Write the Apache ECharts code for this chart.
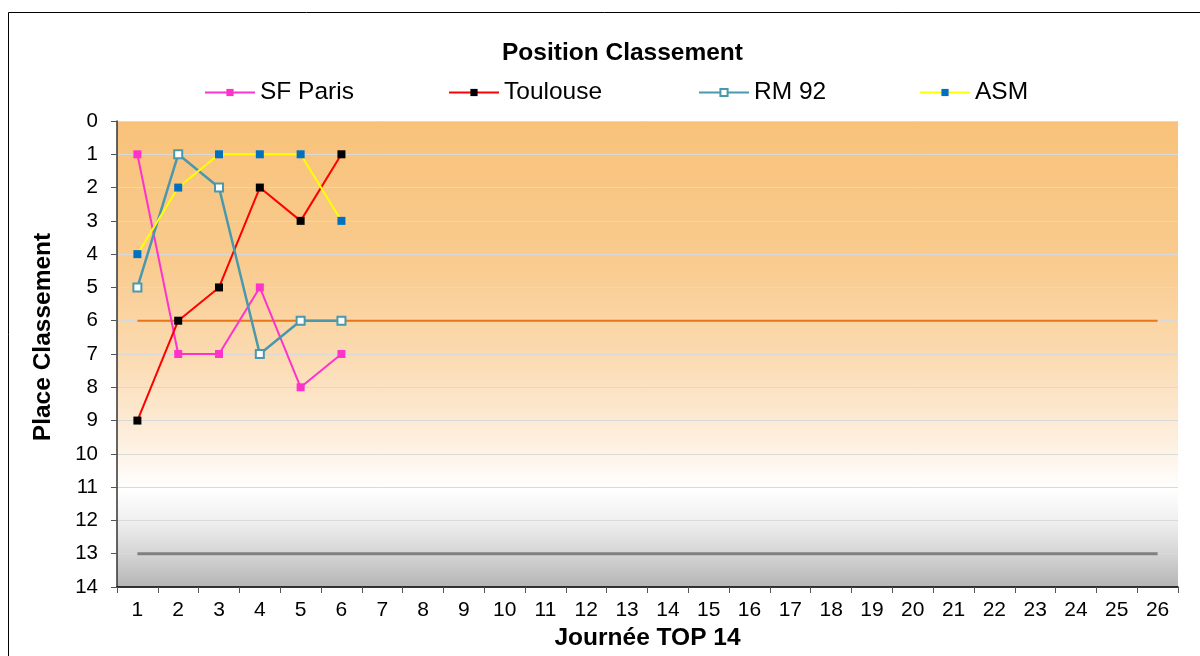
<!DOCTYPE html>
<html><head><meta charset="utf-8">
<script src="https://cdn.jsdelivr.net/npm/echarts@6/dist/echarts.min.js"></script>
<style>html,body{margin:0;padding:0;background:#fff}#c{width:1200px;height:656px}</style>
</head><body><div id="c"></div>
<script>
const journees = ['1','2','3','4','5','6','7','8','9','10','11','12','13','14','15','16','17','18','19','20','21','22','23','24','25','26'];
const sfParis = [1,7,7,5,8,7];
const toulouse = [9,6,5,2,3,1];
const rm92 = [5,1,2,7,6,6];
const asm = [4,2,1,1,1,3];
const ligneQualif = [6,6,6,6,6,6,6,6,6,6,6,6,6,6,6,6,6,6,6,6,6,6,6,6,6,6];
const ligneRelegation = [13,13,13,13,13,13,13,13,13,13,13,13,13,13,13,13,13,13,13,13,13,13,13,13,13,13];
const yTicks = [0,1,2,3,4,5,6,7,8,9,10,11,12,13,14];

const FONT = '"Liberation Sans", Arial, sans-serif';
const chart = echarts.init(document.getElementById('c'));
function leg(name, left){
  return {data:[name], left:left, top:80, padding:0, itemWidth:50, itemHeight:9, itemGap:0,
    textStyle:{fontFamily:FONT, fontSize:24.5, color:'#000'}};
}
chart.setOption({
  animation:false,
  backgroundColor:'#fff',
  title:{text:'Position Classement', left:502, top:41, padding:0,
    textStyle:{fontFamily:FONT, fontSize:24.5, fontWeight:'bold', color:'#000'}},
  legend:[leg('SF Paris',204), leg('Toulouse',448), leg('RM 92',698), leg('ASM',919)],
  graphic:[{type:'rect', shape:{x:8.5,y:12.5,width:1300,height:700}, style:{fill:'none', stroke:'#000', lineWidth:1}, z:-1}],
  grid:{left:117, right:22, top:121, bottom:69, show:true, borderWidth:0,
    backgroundColor:{type:'linear', x:0, y:0, x2:0, y2:1, colorStops:[
      {offset:0, color:'#F8C27A'},
      {offset:0.3, color:'#F9CB8E'},
      {offset:0.5, color:'#FBDAB0'},
      {offset:0.68, color:'#FDEEDC'},
      {offset:0.79, color:'#FFFFFF'},
      {offset:0.86, color:'#EFEFEF'},
      {offset:0.93, color:'#D4D4D4'},
      {offset:1, color:'#B5B5B5'}]}},
  xAxis:{type:'category', data:journees, boundaryGap:true,
    name:'Journée TOP 14', nameLocation:'middle', nameGap:35,
    nameTextStyle:{fontFamily:FONT, fontSize:24.5, fontWeight:'bold', color:'#000'},
    axisLine:{onZero:false, lineStyle:{color:'#000', width:1.5}},
    axisTick:{show:true, length:6, lineStyle:{color:'#555'}},
    axisLabel:{fontFamily:FONT, fontSize:21, color:'#000', margin:13},
    splitLine:{show:false}},
  yAxis:{type:'value', inverse:true, min:0, max:14, interval:1,
    name:'Place Classement', nameLocation:'middle', nameGap:61, nameRotate:90,
    nameTextStyle:{fontFamily:FONT, fontSize:24.5, fontWeight:'bold', color:'#000', padding:[0,0,0,34]},
    axisLine:{show:true, onZero:false, lineStyle:{color:'#333', width:1.5}},
    axisTick:{show:true, length:6, lineStyle:{color:'#555'}},
    axisLabel:{fontFamily:FONT, fontSize:20.5, color:'#000', margin:19,
      formatter:v=>yTicks.includes(v)?String(v):''},
    splitLine:{show:true, lineStyle:{color:'#D9D9D9', width:1}}},
  series:[
    {name:'SF Paris', type:'line', data:sfParis, symbol:'rect', symbolSize:8,
      lineStyle:{color:'#FF33CC', width:2}, itemStyle:{color:'#FF33CC'}, z:3},
    {name:'Toulouse', type:'line', data:toulouse, symbol:'rect', symbolSize:8,
      lineStyle:{color:'#FF0000', width:2}, itemStyle:{color:'#000000'}, z:3},
    {name:'RM 92', type:'line', data:rm92, symbol:'rect', symbolSize:8,
      lineStyle:{color:'#4A98AD', width:2.5}, itemStyle:{color:'#FFFFFF', borderColor:'#4A98AD', borderWidth:2}, z:3},
    {name:'ASM', type:'line', data:asm, symbol:'rect', symbolSize:8,
      lineStyle:{color:'#FFFF00', width:2}, itemStyle:{color:'#0070C0'}, z:3},
    {name:'Qualif', type:'line', data:ligneQualif, symbol:'none', silent:true,
      lineStyle:{color:'#E8761A', width:2}, z:2},
    {name:'Relegation', type:'line', data:ligneRelegation, symbol:'none', silent:true,
      lineStyle:{color:'#808080', width:3}, z:2}
  ]
});
</script></body></html>
